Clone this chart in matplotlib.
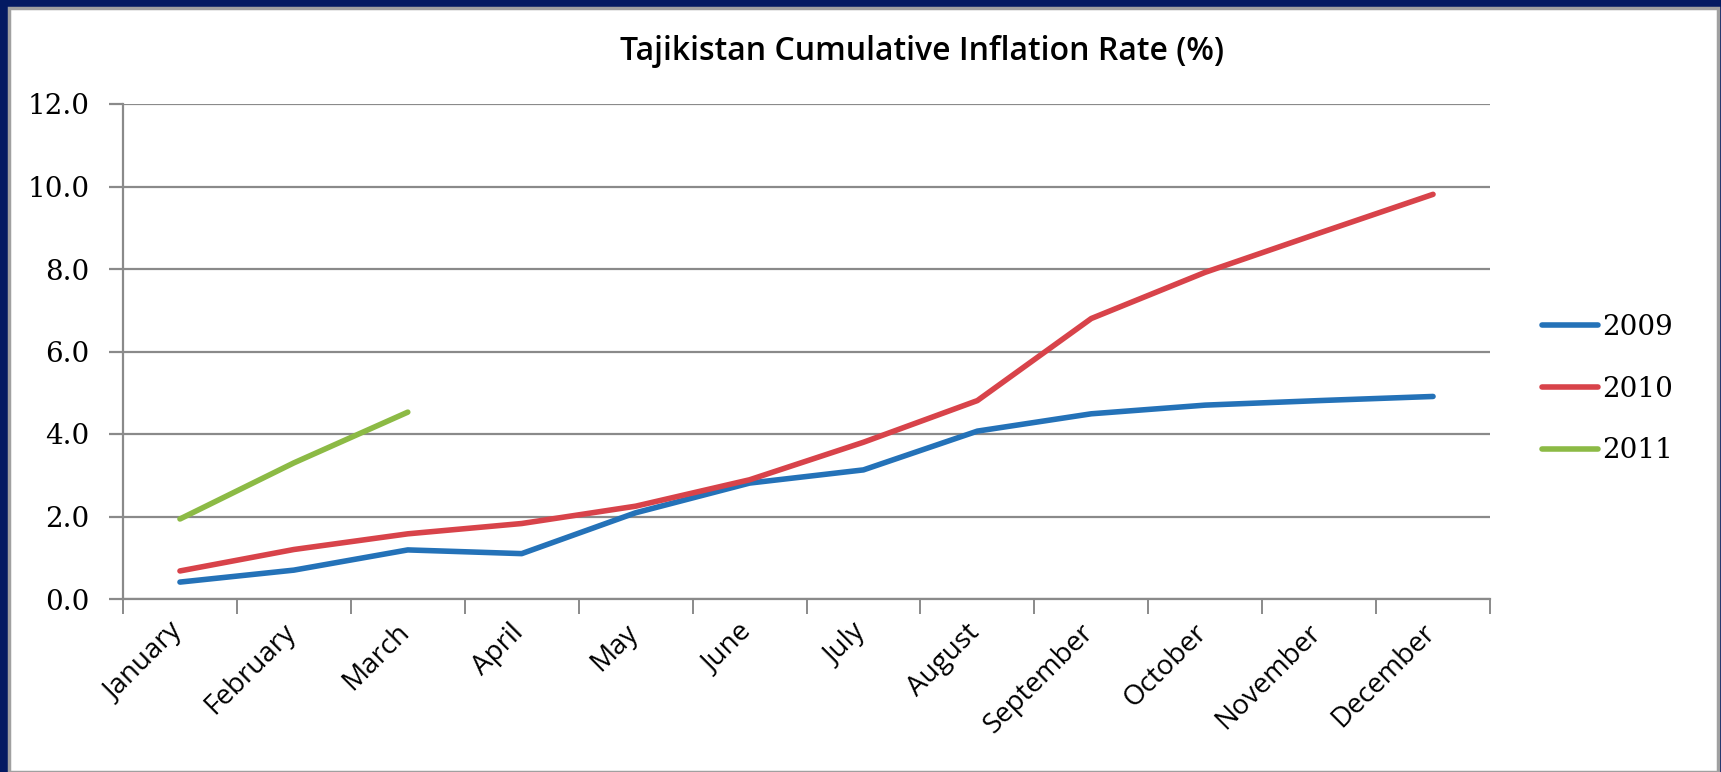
import matplotlib.pyplot as plt
from matplotlib.patches import Rectangle
from matplotlib.transforms import ScaledTranslation
import numpy as np

months = ['January', 'February', 'March', 'April', 'May', 'June',
          'July', 'August', 'September', 'October', 'November', 'December']
infl_2009 = [0.41, 0.70, 1.19, 1.10, 2.09, 2.81, 3.13, 4.07, 4.49, 4.70, 4.81, 4.91]
infl_2010 = [0.68, 1.20, 1.58, 1.83, 2.25, 2.89, 3.80, 4.81, 6.80, 7.92, 8.87, 9.81]
infl_2011 = [1.94, 3.30, 4.53]
yticks = [0, 2, 4, 6, 8, 10, 12]

#### ---------------------------------------------------

W, H = 1721, 772
fig = plt.figure(figsize=(W/100, H/100), dpi=100)
fig.patch.set_facecolor('#041a62')

# white panel with grey frame
fig.patches.append(Rectangle((9/W, 0), (1718-9)/W, (H-8)/H, transform=fig.transFigure,
                             facecolor='white', edgecolor='#a0a0a0', lw=2.5, zorder=-5))

ax = fig.add_axes([123/W, 1 - 599/H, (1490-123)/W, (599-104)/H])
ax.set_facecolor('none')

x = np.arange(len(months))
ax.plot(x, infl_2009, color='#2472b8', lw=4, label='2009', solid_capstyle='round')
ax.plot(x, infl_2010, color='#d8434a', lw=4, label='2010', solid_capstyle='round')
ax.plot(x[:len(infl_2011)], infl_2011, color='#8cba45', lw=4, label='2011', solid_capstyle='round')

ax.set_xlim(-0.5, len(months) - 0.5)
ax.set_ylim(0, 12)
ax.set_yticks(yticks)
ax.set_yticklabels(['{:.1f}'.format(v) for v in yticks], family='DejaVu Serif', fontsize=20)
ax.yaxis.grid(True, color='#8a8a8a', lw=1.6)
ax.set_axisbelow(True)

ax.set_xticks(x)
ax.set_xticklabels(months, rotation=45, ha='right', va='top', rotation_mode='anchor',
                   family='Open Sans', fontsize=20)
ax.set_xticks(np.arange(-0.5, len(months)), minor=True)
ax.tick_params(axis='x', which='major', length=0, pad=14)
ax.tick_params(axis='x', which='minor', length=11, width=1.4, color='#8a8a8a', direction='out')
ax.tick_params(axis='y', length=10, width=1.6, color='#8a8a8a', pad=14)

# nudge month labels a little to the left
shift = ScaledTranslation(-12/100, 0, fig.dpi_scale_trans)
for lab in ax.get_xticklabels():
    lab.set_transform(lab.get_transform() + shift)

for s in ['top', 'right']:
    ax.spines[s].set_visible(False)
ax.spines['left'].set_color('#8a8a8a')
ax.spines['left'].set_linewidth(1.6)
ax.spines['bottom'].set_color('#8a8a8a')
ax.spines['bottom'].set_linewidth(1.6)

fig.text(922/W, 1 - 52/H, 'Tajikistan Cumulative Inflation Rate (%)', ha='center', va='center',
         family='Open Sans', fontsize=23, fontweight='semibold')

leg = ax.legend(loc='center left', frameon=False,
                prop={'family': 'DejaVu Serif', 'size': 20}, handlelength=2.0,
                handletextpad=0.18, labelspacing=1.25, borderpad=0, borderaxespad=0)
leg.set_bbox_to_anchor((1.038, 0.424), transform=ax.transAxes)

plt.savefig('out.png', dpi=100, facecolor=fig.get_facecolor())
